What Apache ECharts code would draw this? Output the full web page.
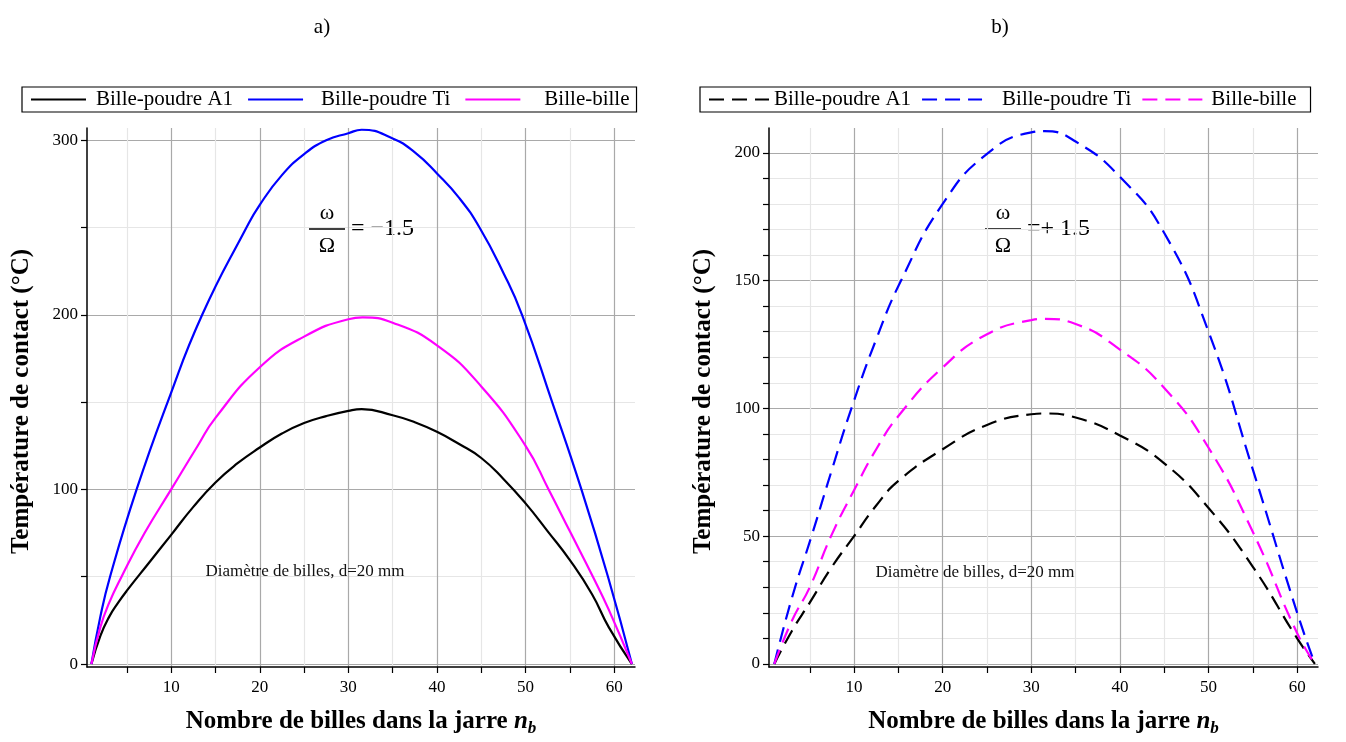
<!DOCTYPE html>
<html>
<head>
<meta charset="utf-8">
<script src="https://cdn.jsdelivr.net/npm/echarts@6/dist/echarts.min.js"></script>
<style>
html,body{margin:0;padding:0;background:#fff;}
#c{position:absolute;left:0;top:0;width:1346px;height:742px;}
</style>
</head>
<body>
<div id="c"></div>
<script>
// ---- data ----
// Panel a) omega/Omega = -1.5 (solid)
const tiA_n = [1, 2, 3.1, 6.1, 9.6, 13.5, 18.5, 20, 22.5, 25, 27.5, 30, 31.5, 35, 37.5, 40, 42.5, 44.8, 47.5, 49.6, 53, 56.3, 59.3, 62];
const tiA_v = [0, 27, 50, 100, 150, 200, 250, 263, 280, 292, 300, 304, 306, 301, 293, 281, 267, 250, 224, 200, 150, 100, 50, 0];
const bbA_n = [1, 2, 3, 4.4, 7, 10, 13, 15, 20, 25, 30, 31.6, 35, 40, 45, 50, 52.6, 55, 57.6, 59.4, 62];
const bbA_v = [0, 21, 35, 50, 75, 100, 125, 141, 170, 187.5, 197.5, 198.5, 195.5, 182.5, 159, 125, 100, 76, 50, 31, 0];
const alA_n = [1, 2, 3, 4, 5, 7.5, 10, 12.5, 15, 17.5, 20, 22.5, 25, 27.5, 30, 31.5, 35, 37.5, 40, 42.5, 45, 47.5, 50, 52.5, 55, 57.5, 59.4, 62];
const alA_v = [0, 16, 27, 35, 42, 58, 74, 90, 104, 115, 124, 132, 138, 142, 145, 146, 142.5, 138.5, 133, 126, 118, 106, 92, 76, 59.5, 40, 21, 0];
// Panel b) omega/Omega = +1.5 (dashed)
const tiB_n = [1, 3, 5.2, 7.5, 9.7, 12.5, 15.3, 20, 25, 30, 31.5, 35, 40, 45, 50, 55, 60, 62];
const tiB_v = [0, 26, 50, 76, 100, 127, 150, 180, 199.6, 208, 208.5, 204.4, 190.6, 168.6, 130, 76, 20, 0];
const bbB_n = [1, 3, 5, 7.4, 10, 12.5, 15, 20, 25, 30, 31.5, 35, 40, 45, 50, 55, 60, 62];
const bbB_v = [0, 17, 30, 50, 68, 84, 97, 116, 129, 134.5, 135, 133, 123, 108, 84.6, 51.6, 12, 0];
const alB_n = [1, 3, 5, 7.5, 10, 12.5, 15, 20, 25, 30, 31.5, 35, 40, 45, 50, 55, 60, 62];
const alB_v = [0, 13, 24, 38, 50, 62, 71.6, 84, 93.5, 97.7, 98, 96.4, 89.4, 78.5, 61, 38, 10, 0];

const seriesLabels = ['Bille-poudre A1', 'Bille-poudre Ti', 'Bille-bille'];
const xTicks = [5, 10, 15, 20, 25, 30, 35, 40, 45, 50, 55, 60];
const xLabels = [10, 20, 30, 40, 50, 60];
const yTicksA = [0, 50, 100, 150, 200, 250, 300];
const yLabelsA = [0, 100, 200, 300];
const yTicksB = [0, 10, 20, 30, 40, 50, 60, 70, 80, 90, 100, 110, 120, 130, 140, 150, 160, 170, 180, 190, 200];
const yLabelsB = [0, 50, 100, 150, 200];

const zip = (a, b) => a.map((v, i) => [v, b[i]]);
const SERIF = "'Liberation Serif', 'DejaVu Serif', serif";
const MAJ = '#a9a9a9', MIN = '#e6e6e6';

function xAxisDef(gi, min, max) {
  return {
    gridIndex: gi, type: 'value', min: min, max: max,
    axisLine: { show: true, onZero: false, lineStyle: { color: '#000', width: 1.5 } },
    axisTick: { show: true, customValues: xTicks, length: 6, lineStyle: { color: '#000', width: 1.2 } },
    axisLabel: { customValues: xLabels, color: '#000', fontFamily: SERIF, fontSize: 17, margin: 12 },
    splitLine: { show: true, lineStyle: { color: [MIN, MAJ], width: 1.2 } },
    name: '{t|Nombre de billes dans la jarre }{n|n}{s|b}',
    nameLocation: 'middle', nameGap: 40,
    nameTextStyle: {
      rich: {
        t: { fontFamily: SERIF, fontSize: 25, fontWeight: 'bold', color: '#000' },
        n: { fontFamily: SERIF, fontSize: 25, fontWeight: 'bold', fontStyle: 'italic', color: '#000' },
        s: { fontFamily: SERIF, fontSize: 17, fontWeight: 'bold', fontStyle: 'italic', color: '#000', padding: [13, 0, 0, 0] }
      }
    }
  };
}
function yAxisDef(gi, min, max, ticks, labels, colors) {
  return {
    gridIndex: gi, type: 'value', min: min, max: max,
    axisLine: { show: true, onZero: false, lineStyle: { color: '#000', width: 1.5 } },
    axisTick: { show: true, customValues: ticks, length: 6, lineStyle: { color: '#000', width: 1.2 } },
    axisLabel: { customValues: labels, color: '#000', fontFamily: SERIF, fontSize: 17, margin: 9 },
    splitLine: { show: true, lineStyle: { color: colors, width: 1.2 } },
    name: 'Température de contact (°C)',
    nameLocation: 'middle', nameGap: 53,
    nameTextStyle: { fontFamily: SERIF, fontSize: 25, fontWeight: 'bold', color: '#000', padding: [0, 8, 0, 0] }
  };
}
function lineSeries(id, xi, n, v, color, dashed) {
  return {
    id: id, name: id, type: 'line', xAxisIndex: xi, yAxisIndex: xi,
    data: zip(n, v), symbol: 'none', smooth: 0.5,
    lineStyle: { color: color, width: 2.2, type: dashed ? [15, 8] : 'solid' },
    itemStyle: { color: color }, z: 5
  };
}
const keyIdx = { A_al: 0, A_ti: 1, A_bb: 2, B_al: 0, B_ti: 1, B_bb: 2 };
const legendText = { fontFamily: SERIF, fontSize: 21, color: '#000' };

function legendDef(left, names, itemWidth, gap, pads, boxPad) {
  return {
    left: left, top: 87, orient: 'horizontal',
    data: names, itemWidth: itemWidth, itemHeight: 12, itemGap: gap,
    borderColor: '#000', borderWidth: 1.2, padding: boxPad,
    formatter: (nm) => '{p' + keyIdx[nm] + '|' + seriesLabels[keyIdx[nm]] + '}',
    itemStyle: { opacity: 0 },
    textStyle: Object.assign({}, legendText, {
      rich: {
        p0: Object.assign({ padding: pads[0] }, legendText),
        p1: Object.assign({ padding: pads[1] }, legendText),
        p2: Object.assign({ padding: pads[2] }, legendText)
      }
    }),
    selectedMode: false
  };
}
function fraction(cx, cy, rhs) {
  return {
    type: 'group', children: [
      { type: 'text', x: cx, y: cy - 16, style: { text: 'ω', font: '22px ' + SERIF, fill: '#000', align: 'center', verticalAlign: 'middle' } },
      { type: 'line', shape: { x1: cx - 18, y1: cy, x2: cx + 18, y2: cy }, style: { stroke: '#000', lineWidth: 1.3 } },
      { type: 'text', x: cx, y: cy + 17, style: { text: 'Ω', font: '22px ' + SERIF, fill: '#000', align: 'center', verticalAlign: 'middle' } },
      { type: 'text', x: cx + 24, y: cy, style: { text: rhs, font: '24px ' + SERIF, fill: '#000', align: 'left', verticalAlign: 'middle' } }
    ]
  };
}

const chart = echarts.init(document.getElementById('c'), null, { renderer: 'canvas' });
chart.setOption({
  backgroundColor: '#fff',
  animation: false,
  grid: [
    { left: 87, top: 128, width: 548, height: 541 },
    { left: 769, top: 128, width: 549, height: 541 }
  ],
  xAxis: [xAxisDef(0, 0.5, 62.35), xAxisDef(1, 0.4, 62.35)],
  yAxis: [
    yAxisDef(0, -1.7, 307, yTicksA, yLabelsA, [MAJ, MIN]),
    yAxisDef(1, -1.2, 209.7, yTicksB, yLabelsB, [MAJ, MIN, MIN, MIN, MIN])
  ],
  legend: [
    legendDef(22, ['A_al', 'A_ti', 'A_bb'], 55, 14, [[0, 0, 0, 5], [0, 0, 0, 13], [0, 0, 0, 19]], [2, 7, 2, 8]),
    legendDef(700, ['B_al', 'B_ti', 'B_bb'], 60, 10, [[0, 0, 0, 0], [0, 0, 0, 15], [0, 0, 0, 4]], [2, 14, 2, 8])
  ],
  series: [
    lineSeries('A_al', 0, alA_n, alA_v, '#000000', false),
    lineSeries('A_ti', 0, tiA_n, tiA_v, '#0000ff', false),
    lineSeries('A_bb', 0, bbA_n, bbA_v, '#ff00ff', false),
    lineSeries('B_al', 1, alB_n, alB_v, '#000000', true),
    lineSeries('B_ti', 1, tiB_n, tiB_v, '#0000ff', true),
    lineSeries('B_bb', 1, bbB_n, bbB_v, '#ff00ff', true)
  ],
  graphic: [
    { type: 'text', x: 322, y: 27, style: { text: 'a)', font: '21px ' + SERIF, fill: '#000', align: 'center', verticalAlign: 'middle' } },
    { type: 'text', x: 1000, y: 27, style: { text: 'b)', font: '21px ' + SERIF, fill: '#000', align: 'center', verticalAlign: 'middle' } },
    fraction(327, 229, '= −1.5'),
    fraction(1003, 229, '=+ 1.5'),
    { type: 'text', x: 305, y: 572, z: 10, style: { text: 'Diamètre de billes, d=20 mm', font: '17px ' + SERIF, fill: '#111', align: 'center', verticalAlign: 'middle' } },
    { type: 'text', x: 975, y: 573, z: 10, style: { text: 'Diamètre de billes, d=20 mm', font: '17px ' + SERIF, fill: '#111', align: 'center', verticalAlign: 'middle' } }
  ]
});
</script>
</body>
</html>
